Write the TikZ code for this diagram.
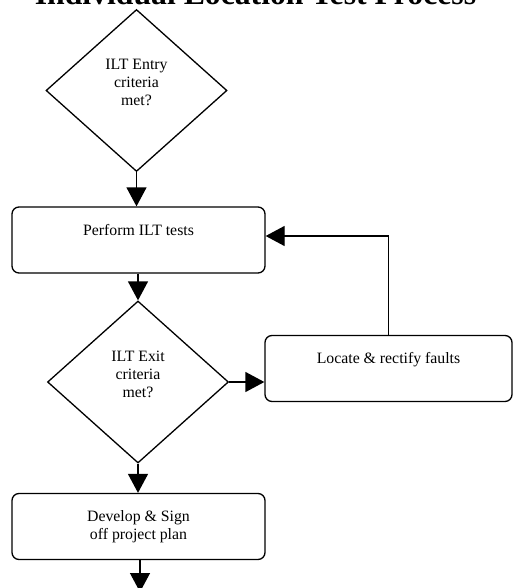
\documentclass[tikz,border=0pt]{standalone}
\usepackage{fontspec}
\setmainfont{Liberation Serif}
\usetikzlibrary{positioning}
\usetikzlibrary{shapes.geometric}
\usepgflibrary{arrows.meta}

\begin{document}
\begin{tikzpicture}[x=1pt, y=-1pt,
    decision/.style={draw=black, line width=1.3pt, diamond, minimum width=181pt, minimum height=162pt, inner sep=0pt, align=center, text height=34pt, text depth=4pt, font=\fontsize{15.8}{18}\selectfont},
    process/.style={draw=black, line width=1.3pt, rounded corners=7pt, minimum height=66pt, inner ysep=4pt, align=center, text height=24pt, text depth=34pt, font=\fontsize{15.8}{18}\selectfont},
    flow/.style={draw=black, line width=1.3pt, -{Triangle[length=19pt, width=20pt]}}]
    \useasboundingbox (0,0) rectangle (513,588);
    \node[anchor=base, font=\fontsize{31.7}{36}\selectfont\bfseries] (Title) at (255.5,4.5) {Individual Location Test Process};
    \node[decision] (Entry) at (136.5,90.5) {ILT Entry\\criteria\\met?};
    \node[process, minimum width=253pt] (Tests) at (138.5,240) {Perform ILT tests};
    \node[decision] (Exit) at (138,382) {ILT Exit\\criteria\\met?};
    \node[process, minimum width=247pt] (Faults) at (388.5,368.5) {Locate \& rectify faults};
    \node[process, minimum width=253pt, text height=42pt, text depth=16pt] (Plan) at (138.5,526.5) {Develop \& Sign\\off project plan};
    \coordinate (End) at (140,592);
    \draw [flow] (Entry.south) -- (Entry.south |- Tests.north);
    \draw [flow] (Tests.south -| Exit.north) -- (Exit.north);
    \draw [flow] (Exit.east) -- (Exit.east -| Faults.west);
    \draw [flow] (Faults.north) |- ([yshift=4pt]Tests.east);
    \draw [flow] (Exit.south) -- (Exit.south |- Plan.north);
    \draw [flow] (Plan.south -| End) -- (End);
\end{tikzpicture}
\end{document}
